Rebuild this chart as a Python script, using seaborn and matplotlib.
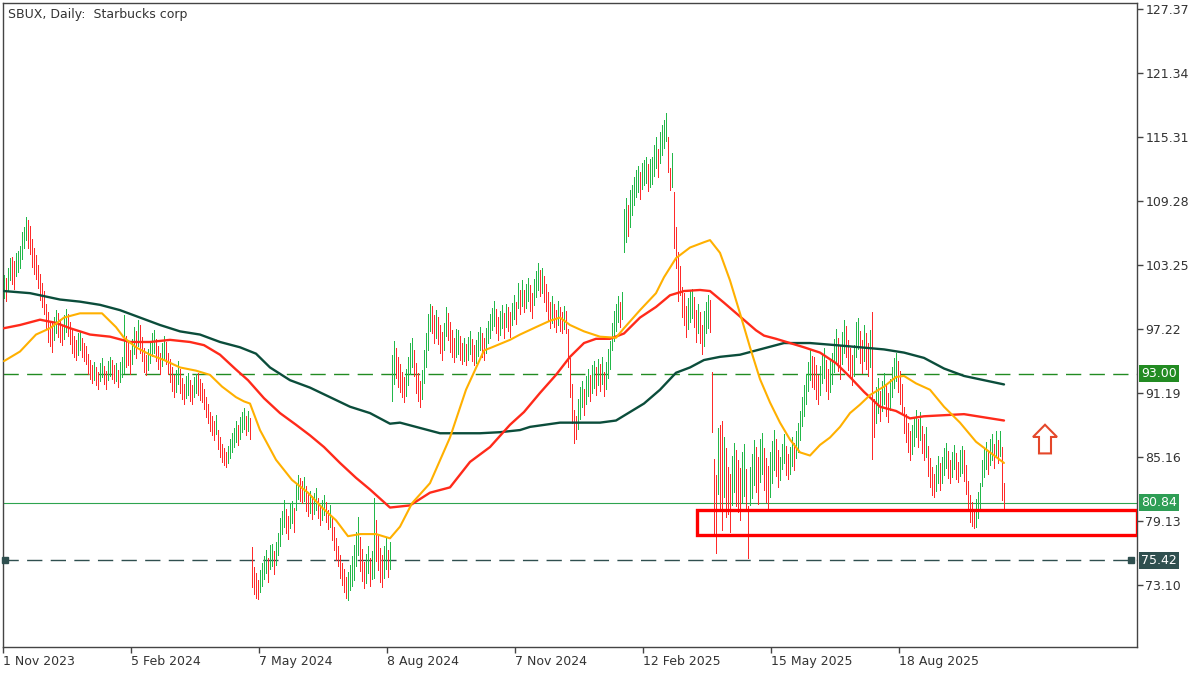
import numpy as np
import pandas as pd
import seaborn as sns
import matplotlib.pyplot as plt
from matplotlib import patches, transforms

title_text = "SBUX, Daily:  Starbucks corp"

# daily bars (high, low), oldest first
bars_hl = [
    (102.3, 100.1), (102.0, 99.9), (103.0, 100.8),
    (103.9, 101.8), (104.0, 101.5), (103.6, 101.0),
    (104.4, 102.2), (104.6, 102.6), (105.0, 103.0), (106.4, 103.8), (106.8, 104.9),
    (107.8, 105.6), (107.5, 104.9),
    (106.9, 104.3), (105.7, 103.1), (104.9, 102.4), (104.2, 101.9),
    (103.3, 101.1), (102.4, 100.0), (101.6, 99.3), (100.8, 98.6),
    (99.6, 97.2), (98.8, 96.0), (98.0, 95.6), (97.8, 95.1), (98.4, 96.2),
    (99.0, 96.8), (98.7, 96.5), (98.2, 96.0), (97.6, 95.7), (98.5, 96.3), (99.1, 96.9), (98.6, 96.6), (97.9, 95.8),
    (97.1, 95.0), (96.6, 94.6), (96.2, 94.3), (96.8, 94.8), (96.9, 95.2), (96.4, 94.6), (95.9, 94.2), (95.6, 93.9),
    (94.9, 93.0), (94.3, 92.5), (93.8, 92.1), (94.1, 92.4), (93.6, 91.9), (93.2, 91.6), (94.0, 92.3), (94.5, 92.7),
    (93.7, 92.0), (93.3, 91.6), (94.2, 92.4), (94.6, 92.8),
    (94.3, 92.5), (93.8, 92.1), (94.0, 92.3), (93.4, 91.8), (94.1, 92.2), (94.6, 92.7), (98.5, 93.1), (96.6, 93.6),
    (96.0, 93.8), (95.2, 93.0), (96.3, 93.9), (97.4, 94.9), (97.0, 94.5), (98.1, 95.6), (97.6, 95.0),
    (96.5, 94.2), (95.4, 93.2), (94.8, 92.9), (95.3, 93.4), (96.1, 94.0), (96.8, 94.7), (97.1, 95.0), (96.3, 94.2),
    (95.6, 93.5), (95.0, 93.0), (95.9, 93.7), (96.6, 94.4), (96.0, 93.9),
    (95.0, 93.0), (94.4, 92.2), (93.6, 91.4), (92.9, 90.8), (93.4, 91.3), (94.2, 92.0), (93.5, 91.2),
    (92.6, 90.6), (92.0, 90.2), (92.8, 90.7), (93.1, 91.0), (92.4, 90.4), (91.9, 90.2), (92.7, 90.8), (93.0, 91.2),
    (93.1, 91.0), (92.5, 90.5),
    (92.1, 90.3), (91.6, 89.7), (90.8, 88.9), (90.2, 88.4), (89.4, 87.6), (89.0, 87.2), (88.6, 86.8), (89.1, 87.3),
    (87.7, 85.9), (87.0, 85.2), (86.4, 84.7), (86.0, 84.4), (85.6, 84.2), (86.2, 84.6), (86.9, 85.1),
    (87.4, 85.6), (87.9, 86.1), (88.6, 86.6), (88.2, 86.3), (88.9, 86.9), (89.4, 87.5), (89.8, 87.8), (89.0, 87.2),
    (89.5, 87.6), (88.8, 86.9),
    (76.7, 72.9), (74.8, 72.3), (74.2, 71.9), (73.6, 71.8), (74.5, 72.4), (75.2, 73.0),
    (75.8, 73.7), (76.4, 74.2), (75.6, 73.4), (76.9, 74.6), (77.0, 74.9), (76.3, 74.1), (77.2, 75.0),
    (78.0, 75.9), (79.4, 76.8), (80.1, 77.9), (81.1, 78.6), (80.3, 78.0), (79.6, 77.4), (80.8, 78.5), (81.0, 78.9),
    (80.4, 78.1),
    (82.6, 80.2), (83.5, 81.2), (83.2, 81.0), (82.9, 80.8), (83.3, 81.0),
    (82.4, 80.1), (81.7, 79.6), (82.0, 79.9), (81.5, 79.3), (81.8, 79.8), (82.2, 80.2), (81.3, 79.4), (80.6, 78.8),
    (81.1, 79.2), (81.6, 79.7), (80.9, 79.0), (80.2, 78.4), (80.6, 78.6),
    (79.4, 77.3), (78.6, 76.4), (77.5, 75.5), (76.8, 74.9), (75.9, 73.8), (75.2, 73.1), (74.6, 72.4), (73.9, 71.9),
    (74.3, 71.7), (75.0, 72.6),
    (75.8, 73.0), (76.9, 73.6), (78.1, 74.9), (79.5, 75.9), (77.6, 74.4), (76.5, 73.5), (75.3, 72.8), (76.0, 73.3),
    (76.8, 74.2), (75.6, 73.0), (76.3, 73.7), (81.3, 73.8), (79.2, 75.4), (77.8, 74.5), (76.6, 73.4), (75.9, 72.9),
    (76.8, 73.8), (77.6, 74.6), (76.4, 73.9), (77.2, 74.6),
    (94.8, 90.4), (96.1, 92.0), (95.4, 92.6), (94.6, 91.8), (93.9, 91.3), (93.2, 90.8), (92.7, 90.3), (93.5, 90.9),
    (94.6, 91.9), (95.9, 93.0), (96.4, 93.6), (95.2, 92.8), (94.0, 91.2), (93.1, 90.4), (92.3, 89.9), (93.4, 90.6),
    (95.2, 92.1), (96.8, 93.6), (98.6, 95.2), (99.6, 97.0), (99.4, 96.8), (98.5, 95.9), (99.0, 96.4),
    (98.4, 95.8), (97.6, 95.0), (96.9, 94.3), (97.8, 95.2), (99.3, 96.6), (98.7, 96.2), (97.9, 95.1), (97.1, 94.6),
    (96.4, 94.1), (97.2, 94.6),
    (97.1, 94.9), (96.6, 94.3), (95.9, 93.9), (96.4, 94.2), (95.8, 93.8), (96.5, 94.3), (97.0, 94.9), (96.3, 94.2),
    (95.7, 93.8), (96.2, 94.0), (96.9, 94.7), (97.4, 95.2), (96.8, 94.6),
    (96.4, 94.3), (97.3, 95.0), (98.0, 95.9), (98.6, 96.4), (99.2, 97.1), (99.9, 97.5), (99.1, 96.8), (98.4, 96.2),
    (98.9, 96.7), (99.5, 97.3), (98.7, 96.4), (99.6, 97.4), (99.3, 97.0), (98.8, 96.5), (99.7, 97.6), (100.4, 98.2),
    (99.8, 97.7), (101.6, 99.2),
    (100.9, 98.6), (101.8, 99.4), (100.9, 98.8), (101.5, 99.2), (102.0, 99.9), (101.4, 98.9), (100.6, 98.3), (101.9, 99.5),
    (102.7, 100.2), (103.4, 100.9), (102.8, 100.3), (103.0, 100.6), (102.2, 99.8), (101.5, 98.9), (100.7, 98.1), (99.8, 97.3),
    (100.3, 97.8),
    (99.6, 97.4), (99.0, 96.9), (99.9, 97.6), (99.3, 97.0), (98.8, 96.8), (99.4, 97.2), (98.9, 96.8),
    (97.2, 93.6), (94.5, 90.8), (92.0, 88.4), (89.6, 86.5), (89.0, 86.9),
    (90.6, 87.8), (91.8, 88.7), (92.3, 89.9), (91.6, 89.1), (92.8, 90.2), (93.5, 90.9), (92.9, 90.4), (93.8, 91.2),
    (94.2, 91.7), (93.6, 91.0), (94.4, 91.9), (93.9, 91.4), (94.6, 92.0), (93.2, 90.9), (94.1, 91.6), (95.3, 92.6),
    (96.1, 93.5),
    (97.8, 95.2), (98.9, 96.1), (99.6, 97.0), (100.3, 97.9), (99.8, 97.4), (100.7, 98.2),
    (108.5, 104.5), (109.6, 105.4), (108.9, 106.0), (110.3, 106.8),
    (110.8, 108.0), (111.5, 108.9), (112.2, 109.7), (112.6, 110.1), (112.0, 109.5), (112.9, 110.4), (113.1, 110.8), (113.4, 111.0),
    (112.8, 110.2), (113.2, 110.6),
    (113.4, 110.9), (114.6, 111.6), (115.3, 112.4), (114.2, 111.5), (115.8, 112.9), (116.4, 113.6), (116.9, 114.3), (117.6, 114.9),
    (115.3, 112.0), (112.4, 110.3), (113.8, 110.6),
    (110.1, 104.9), (106.8, 103.0), (104.5, 99.9), (103.2, 100.4),
    (101.2, 98.4), (100.6, 97.6), (99.4, 96.5), (100.1, 97.2), (100.8, 97.9), (101.0, 98.3), (100.2, 97.4), (99.0, 96.0),
    (99.6, 96.8),
    (98.8, 95.9), (97.6, 94.9), (98.9, 95.6), (99.8, 96.8), (100.4, 97.3), (100.0, 96.9),
    (93.2, 87.5),
    (85.0, 77.8), (83.5, 76.1), (87.9, 81.7), (88.2, 80.3), (88.6, 78.3),
    (87.0, 81.4), (86.0, 79.5), (84.2, 79.8), (83.6, 78.1), (85.3, 80.6), (86.5, 81.9), (85.8, 80.5), (84.9, 80.0),
    (84.1, 79.2), (85.6, 80.9), (86.4, 81.5),
    (84.0, 80.4), (80.5, 75.6),
    (84.2, 80.6), (85.4, 81.3), (86.8, 82.5), (86.1, 81.9), (85.2, 80.7), (86.9, 82.8), (87.4, 83.6), (86.0, 82.1),
    (85.1, 80.9), (84.3, 80.2), (85.6, 81.4),
    (86.7, 82.7), (87.7, 83.9), (86.9, 83.4), (85.8, 82.3),
    (85.2, 83.0), (86.4, 84.0), (87.3, 84.6), (86.2, 83.5), (85.4, 83.1), (86.1, 83.6), (87.0, 84.3), (86.5, 83.9),
    (87.6, 85.1),
    (88.4, 85.6), (89.5, 86.8), (90.8, 88.1), (91.9, 89.0), (93.0, 90.2), (94.1, 91.4), (95.2, 92.4), (94.7, 91.8),
    (94.6, 91.6), (93.8, 90.6), (92.9, 90.2), (93.7, 91.0), (94.9, 92.1), (95.4, 92.6), (94.3, 91.4), (93.5, 90.6),
    (94.2, 91.3),
    (95.0, 92.0), (96.3, 93.2), (97.2, 94.1), (96.4, 93.3), (95.6, 92.5), (96.9, 93.9), (98.1, 95.0), (97.5, 94.6),
    (96.2, 93.4), (95.4, 92.6), (94.8, 91.9), (95.7, 92.8), (97.9, 94.6), (98.3, 95.3), (97.0, 94.0), (96.2, 93.1),
    (97.6, 94.2), (96.8, 93.5), (95.9, 92.8), (97.1, 93.6), (98.8, 85.0),
    (90.6, 87.0), (91.8, 88.4), (92.6, 89.3), (91.4, 88.6), (92.3, 89.5), (93.1, 90.2), (92.0, 89.0), (91.2, 88.5),
    (92.5, 89.6),
    (93.6, 90.8), (94.5, 91.7), (95.0, 92.3), (94.2, 91.3), (93.3, 90.2), (92.0, 89.3),
    (89.9, 87.4), (89.2, 86.6), (88.4, 85.6), (87.6, 84.9), (88.2, 85.4), (88.9, 86.2), (89.6, 87.0), (88.7, 86.1),
    (89.4, 86.8), (88.1, 85.5), (87.3, 84.9), (88.0, 85.2),
    (86.2, 83.4), (85.1, 82.3), (84.2, 81.6), (83.6, 81.4), (84.4, 82.0), (85.3, 82.7), (84.6, 82.1),
    (85.2, 82.7), (86.0, 83.5), (86.5, 84.1), (85.7, 83.2), (84.9, 82.7), (85.6, 83.3), (86.3, 84.0), (85.5, 83.1),
    (84.7, 82.8), (85.8, 83.4), (86.2, 83.7),
    (85.8, 82.9), (84.4, 81.7), (82.9, 80.3), (81.6, 79.0), (80.9, 78.7), (80.3, 78.5), (81.2, 78.6), (81.9, 79.4),
    (82.7, 80.3),
    (84.9, 82.4), (85.9, 83.3), (86.6, 84.0), (85.8, 83.6), (86.9, 84.4), (87.3, 84.9), (86.4, 84.1), (87.6, 85.2),
    (86.8, 84.6),
    (87.6, 85.3), (86.1, 81.1), (82.7, 80.2),
]

# moving averages, sampled along the bar index
ma_fast_idx = [0, 8, 16, 23, 30, 38, 46, 49, 56, 60, 66, 73, 80, 88, 96, 103, 109, 116, 120, 123,
               128, 136, 144, 152, 159, 166, 172, 178, 186, 193, 198, 204, 213, 223, 231, 240, 244, 253, 258,
               266, 273, 278, 283, 290, 298, 306, 310, 318, 326, 330, 336, 343, 350, 353, 358, 363, 368, 373,
               378, 383, 388, 393, 398, 403, 408, 413, 418, 423, 428, 433, 440, 446, 450, 456, 463, 470, 478,
               486, 493, 500]
ma_fast = [94.2, 95.1, 96.7, 97.3, 98.3, 98.7, 98.7, 98.7, 97.4, 96.4, 95.5, 94.8, 94.3, 93.6, 93.3, 92.9, 91.8, 90.8, 90.4, 90.2,
           87.7, 84.9, 83.0, 81.8, 80.4, 79.2, 77.7, 77.9, 77.9, 77.5, 78.6, 80.8, 82.7, 87.0, 91.5, 95.2, 95.5, 96.2, 96.7,
           97.4, 98.0, 98.3, 97.6, 97.0, 96.5, 96.4, 97.3, 99.0, 100.6, 102.1, 103.9, 104.9, 105.4, 105.6, 104.4, 101.8, 98.7, 95.5,
           92.5, 90.3, 88.4, 86.8, 85.6, 85.3, 86.3, 87.0, 88.0, 89.3, 90.1, 91.0, 91.8, 92.7, 92.8, 92.1, 91.5, 89.9, 88.4,
           86.6, 85.6, 84.6]

ma_mid_idx = [0, 8, 18, 26, 33, 43, 53, 63, 73, 83, 93, 100, 108, 116, 122, 130, 138, 146, 153, 160, 168, 176,
              183, 193, 198, 203, 213, 223, 233, 243, 253, 260, 268, 276, 283, 290, 296, 303, 310, 318, 326, 333,
              340, 348, 353, 360, 368, 376, 380, 386, 393, 400, 408, 416, 423, 430, 438, 446, 453, 460, 470, 480,
              490, 500]
ma_mid = [97.3, 97.6, 98.1, 97.8, 97.3, 96.7, 96.5, 96.0, 96.0, 96.2, 96.0, 95.7, 94.8, 93.4, 92.4, 90.7, 89.3, 88.2,
          87.2, 86.1, 84.6, 83.2, 82.1, 80.4, 80.5, 80.6, 81.8, 82.3, 84.7, 86.1, 88.2, 89.4, 91.2, 92.9, 94.6, 95.9,
          96.3, 96.3, 96.8, 98.3, 99.3, 100.4, 100.8, 100.9, 100.8, 99.7, 98.4, 97.1, 96.6, 96.3, 95.9, 95.5, 95.0,
          94.0, 92.7, 91.3, 89.9, 89.5, 88.8, 89.0, 89.1, 89.2, 88.9, 88.6]

ma_slow_idx = [0, 13, 28, 38, 48, 58, 68, 78, 88, 98, 108, 118, 126, 133, 143, 153, 163, 173, 183, 193, 198, 208,
               218, 228, 238, 248, 258, 263, 278, 288, 298, 306, 313, 320, 328, 336, 343, 350, 358, 368, 378, 390,
               403, 416, 428, 440, 450, 460, 470, 480, 490, 500]
ma_slow = [100.8, 100.6, 100.0, 99.8, 99.5, 99.0, 98.3, 97.6, 97.0, 96.7, 96.0, 95.5, 94.9, 93.6, 92.4, 91.7, 90.8,
           89.9, 89.3, 88.3, 88.4, 87.9, 87.4, 87.4, 87.4, 87.5, 87.7, 88.0, 88.4, 88.4, 88.4, 88.6, 89.4, 90.2, 91.5,
           93.1, 93.6, 94.3, 94.6, 94.8, 95.3, 95.9, 95.9, 95.7, 95.5, 95.3, 95.0, 94.5, 93.5, 92.8, 92.4, 92.0]

date_labels = ["1 Nov 2023", "5 Feb 2024", "7 May 2024", "8 Aug 2024",
               "7 Nov 2024", "12 Feb 2025", "15 May 2025", "18 Aug 2025"]
date_idx = [-0.5, 63.5, 127.5, 191.5, 255.5, 319.5, 383.5, 447.5]
price_ticks = [127.37, 121.34, 115.31, 109.28, 103.25, 97.22, 91.19, 85.16, 79.13, 73.10]

level_resist = 93.00
level_support = 75.42
last_price = 80.84
zone_top, zone_bottom = 80.16, 77.81
zone_start = 346.5
arrow_idx, arrow_base, arrow_len = 520.5, 85.5, 2.7

# ---- build frame
hl = pd.DataFrame(bars_hl, columns=["high", "low"])
hl["idx"] = np.arange(len(hl))
mid = (hl["high"] + hl["low"]) / 2
hl["up"] = mid.diff().fillna(1) >= 0

sns.set_theme(style="white")
plt.rcParams["font.family"] = ["DejaVu Sans"]

fig = plt.figure(figsize=(12, 6.75), dpi=100)
ax = fig.add_axes([3 / 1200, 28 / 675, 1134 / 1200, 644 / 675])

green, red = "#22b84a", "#ff2a2a"
up = hl[hl["up"]]
dn = hl[~hl["up"]]
ax.vlines(up["idx"], up["low"], up["high"], color=green, lw=0.6, antialiased=False, zorder=3)
ax.vlines(dn["idx"], dn["low"], dn["high"], color=red, lw=0.6, antialiased=False, zorder=3)

sns.lineplot(x=ma_slow_idx, y=ma_slow, ax=ax, color="#0b4d3b", lw=1.7, zorder=4)
sns.lineplot(x=ma_mid_idx, y=ma_mid, ax=ax, color="#ff2a1a", lw=1.7, zorder=4)
sns.lineplot(x=ma_fast_idx, y=ma_fast, ax=ax, color="#ffb000", lw=1.5, zorder=4)

# horizontal levels
ax.axhline(level_resist, color="#228b22", lw=1.0, dashes=(11, 6), zorder=2)
ax.axhline(level_support, color="#2f4f4f", lw=1.0, dashes=(11, 6), zorder=2)
ax.axhline(last_price, color="#2ea44f", lw=0.8, zorder=2)
blend = transforms.blended_transform_factory(ax.transAxes, ax.transData)
ax.plot([0.002, 0.995], [level_support, level_support], ls="none", marker="s", ms=4,
        color="#2f4f4f", transform=blend, clip_on=False, zorder=5)

# support zone and arrow
zone = patches.Rectangle((zone_start, zone_bottom), 566.5 - zone_start, zone_top - zone_bottom,
                         fill=False, edgecolor="#ff0000", lw=2.4, zorder=6)
ax.add_patch(zone)
arrow = patches.FancyArrow(arrow_idx, arrow_base, 0, arrow_len, width=6, head_width=12,
                           head_length=1.15, length_includes_head=True, fill=False,
                           edgecolor="#e4472a", lw=1.5, zorder=6)
ax.add_patch(arrow)

# axes, ticks
ax.set_xlim(-0.5, 566.5)
ax.set_ylim(67.26, 127.94)
ax.yaxis.tick_right()
ax.set_yticks(price_ticks)
ax.set_yticklabels([f"{p:.2f}" for p in price_ticks])
ax.set_xticks(date_idx)
ax.set_xticklabels(date_labels, ha="left")
ax.tick_params(axis="both", direction="out", length=4, width=1, color="#444444",
               labelcolor="#333333", labelsize=9, bottom=True, right=True, left=False)
ax.tick_params(axis="y", pad=2)
ax.tick_params(axis="x", pad=2)
for s in ax.spines.values():
    s.set_color("#444444")
    s.set_linewidth(1.0)
ax.set_xlabel("")
ax.set_ylabel("")
ax.grid(False)

# price tags on the scale
for val, col in [(level_resist, "#228b22"), (last_price, "#2e9e55"), (level_support, "#2f4f4f")]:
    ax.text(1.0035, val, f"{val:.2f}", transform=blend, ha="left", va="center", color="white",
            fontsize=9, zorder=10, clip_on=False,
            bbox=dict(boxstyle="square,pad=0.15", fc=col, ec="none"))

ax.text(0.004, 0.993, title_text, transform=ax.transAxes, ha="left", va="top",
        fontsize=9, color="#333333")

fig.savefig("out.png", dpi=100)
